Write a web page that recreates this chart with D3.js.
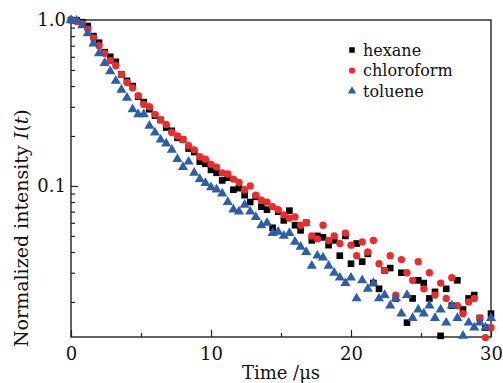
<!DOCTYPE html>
<html>
<head>
<meta charset="utf-8">
<script src="https://cdn.jsdelivr.net/npm/d3@7"></script>
<style>
  body { margin: 0; background: #fff; }
  svg text { font-family: "DejaVu Serif", "Liberation Serif", serif; fill: #111; }
</style>
</head>
<body>
<div class="chart"></div>
<script>
// Data.
const seriesNames = ["hexane", "chloroform", "toluene"];

const times = [
  0.0, 0.4, 0.8, 1.2, 1.6, 2.0, 2.4, 2.8, 3.2, 3.6, 4.0, 4.4, 4.8, 5.2, 5.6,
  6.0, 6.4, 6.8, 7.2, 7.6, 8.0, 8.4, 8.8, 9.2, 9.6, 10.0, 10.4, 10.8, 11.2,
  11.6, 12.0, 12.4, 12.8, 13.2, 13.6, 14.0, 14.4, 14.8, 15.2, 15.6, 16.0,
  16.4, 16.8, 17.2, 17.6, 18.0, 18.4, 18.8, 19.2, 19.6, 20.0, 20.4, 20.8,
  21.2, 21.6, 22.0, 22.4, 22.8, 23.2, 23.6, 24.0, 24.4, 24.8, 25.2, 25.6,
  26.0, 26.4, 26.8, 27.2, 27.6, 28.0, 28.4, 28.8, 29.2, 29.6, 30.0
];

const hexane = [
  1.0, 0.995, 0.97, 0.92, 0.8, 0.73, 0.64, 0.6, 0.56, 0.47, 0.43, 0.4, 0.345,
  0.32, 0.29, 0.265, 0.25, 0.225, 0.215, 0.195, 0.19, 0.168, 0.16, 0.14, 0.136,
  0.125, 0.12, 0.108, 0.112, 0.095, 0.097, 0.088, 0.08, 0.086, 0.075, 0.072,
  0.056, 0.07, 0.062, 0.071, 0.058, 0.054, 0.06, 0.047, 0.05, 0.049, 0.044,
  0.047, 0.038, 0.05, 0.034, 0.045, 0.035, 0.039, 0.026, 0.024, 0.031, 0.032,
  0.021, 0.03, 0.015, 0.021, 0.027, 0.026, 0.021, 0.023, 0.0125, 0.024, 0.019,
  0.027, 0.018, 0.021, 0.022, 0.016, 0.014, 0.017
];

const chloroform = [
  1.0, 0.98, 0.95, 0.88, 0.78, 0.7, 0.63, 0.57, 0.53, 0.47, 0.42, 0.39, 0.35,
  0.31, 0.3, 0.27, 0.25, 0.235, 0.21, 0.2, 0.19, 0.175, 0.165, 0.15, 0.145,
  0.135, 0.13, 0.12, 0.118, 0.11, 0.105, 0.095, 0.1, 0.088, 0.082, 0.08,
  0.075, 0.072, 0.067, 0.064, 0.065, 0.058, 0.06, 0.05, 0.048, 0.058, 0.047,
  0.05, 0.045, 0.052, 0.044, 0.038, 0.046, 0.04, 0.047, 0.034, 0.031, 0.038,
  0.022, 0.036, 0.03, 0.027, 0.035, 0.024, 0.03, 0.022, 0.026, 0.021, 0.028,
  0.019, 0.017, 0.02, 0.021, 0.016, 0.0122, 0.014
];

const toluene = [
  1.0, 0.99, 0.93, 0.83, 0.72, 0.63, 0.55, 0.49, 0.43, 0.38, 0.34, 0.29, 0.27,
  0.27, 0.23, 0.21, 0.19, 0.18, 0.165, 0.145, 0.13, 0.14, 0.12, 0.11, 0.104,
  0.098, 0.095, 0.09, 0.08, 0.072, 0.07, 0.077, 0.07, 0.065, 0.058, 0.06,
  0.052, 0.053, 0.05, 0.052, 0.046, 0.043, 0.04, 0.033, 0.038, 0.037, 0.033,
  0.03, 0.028, 0.026, 0.028, 0.021, 0.027, 0.024, 0.026, 0.021, 0.022, 0.019,
  0.021, 0.017, 0.022, 0.016, 0.018, 0.017, 0.019, 0.016, 0.018, 0.015, 0.019,
  0.016, 0.0125, 0.015, 0.014, 0.015, 0.014, 0.016
];

const xTickValues = [0, 10, 20, 30];
const xMinorTicks = [5, 15, 25];
const yTickValues = [1.0, 0.1];
const yTickLabels = ["1.0", "0.1"];
const yMinorTicks = [0.9, 0.8, 0.7, 0.6, 0.5, 0.4, 0.3, 0.2,
                     0.09, 0.08, 0.07, 0.06, 0.05, 0.04, 0.03, 0.02];

const colors = { hexane: "#000000", chloroform: "#ee2b2b", toluene: "#2c5eab" };

// Margin convention.
const W = 503, H = 383;
const margin = { top: 20, right: 12, bottom: 46, left: 71 };
const width = W - margin.left - margin.right;
const height = H - margin.top - margin.bottom;

const svg = d3.select(".chart")
  .append("svg")
  .attr("width", W)
  .attr("height", H);

const g = svg.append("g")
  .attr("transform", `translate(${margin.left}, ${margin.top})`);

// Scales.
const xScale = d3.scaleLinear().domain([0, 30]).range([0, width]);
const yScale = d3.scaleLog().domain([0.0123, 1.0]).range([height, 0]);

// Frame.
g.append("rect")
  .attr("width", width)
  .attr("height", height)
  .attr("fill", "none")
  .attr("stroke", "#222")
  .attr("stroke-width", 1.4);

// x axis (ticks inward).
const xAxis = d3.axisBottom(xScale)
  .tickValues(xTickValues)
  .tickSize(-7)
  .tickSizeOuter(0)
  .tickPadding(10)
  .tickFormat(d3.format("d"));

g.append("g")
  .attr("class", "x axis")
  .attr("transform", `translate(0, ${height})`)
  .call(xAxis);

const xMinor = d3.axisBottom(xScale)
  .tickValues(xMinorTicks)
  .tickSize(-4)
  .tickSizeOuter(0)
  .tickFormat("");

g.append("g")
  .attr("transform", `translate(0, ${height})`)
  .call(xMinor);

// y axis (ticks inward).
const yAxis = d3.axisLeft(yScale)
  .tickValues(yTickValues)
  .tickSize(-7)
  .tickSizeOuter(0)
  .tickPadding(5)
  .tickFormat((d, i) => yTickLabels[i]);

g.append("g").attr("class", "y axis").call(yAxis);

const yMinor = d3.axisLeft(yScale)
  .tickValues(yMinorTicks)
  .tickSize(-4)
  .tickSizeOuter(0)
  .tickFormat("");

g.append("g").call(yMinor);

g.selectAll(".domain").remove();
g.selectAll(".tick line").attr("stroke", "#222").attr("stroke-width", 1.2);
g.selectAll(".tick text")
  .style("font-size", "18px")
  .style("font-family", "DejaVu Serif, serif")
  .attr("fill", "#111");

// Axis titles.
svg.append("text")
  .attr("x", margin.left + width / 2)
  .attr("y", 379)
  .attr("text-anchor", "middle")
  .style("font-size", "18px")
  .text("Time /\u03bcs");

const yTitle = svg.append("text")
  .attr("transform", "translate(28, 347) rotate(-90)")
  .attr("text-anchor", "start")
  .style("font-size", "19px");
yTitle.append("tspan").text("Normalized intensity ");
yTitle.append("tspan").style("font-style", "italic").text("I");
yTitle.append("tspan").text("(");
yTitle.append("tspan").style("font-style", "italic").text("t");
yTitle.append("tspan").text(")");

// Markers.
const symbolTypes = {
  hexane: d3.symbolSquare,
  chloroform: d3.symbolCircle,
  toluene: d3.symbolTriangle
};
const symbolSizes = { hexane: 44, chloroform: 42, toluene: 44 };

const seriesData = [
  { name: "hexane", values: hexane },
  { name: "chloroform", values: chloroform },
  { name: "toluene", values: toluene }
];

const points = g.append("g").attr("class", "points");
seriesData.forEach((s) => {
  points.append("g")
    .attr("class", `point-group-${s.name}`)
    .selectAll("path")
    .data(s.values.map((v, i) => ({ t: times[i], v: v })))
    .enter()
    .append("path")
    .attr("d", d3.symbol().type(symbolTypes[s.name]).size(symbolSizes[s.name]))
    .attr("transform", (d) => `translate(${xScale(d.t)}, ${yScale(d.v)})`)
    .attr("fill", colors[s.name]);
});

// Legend.
const legend = svg.append("g").attr("transform", "translate(352, 50)");
seriesNames.forEach((name, i) => {
  const row = legend.append("g").attr("transform", `translate(0, ${i * 20.5})`);
  row.append("path")
    .attr("d", d3.symbol().type(symbolTypes[name]).size(30))
    .attr("fill", colors[name]);
  row.append("text")
    .attr("x", 11)
    .attr("dy", "0.35em")
    .style("font-size", "16px")
    .text(name);
});
</script>
</body>
</html>
